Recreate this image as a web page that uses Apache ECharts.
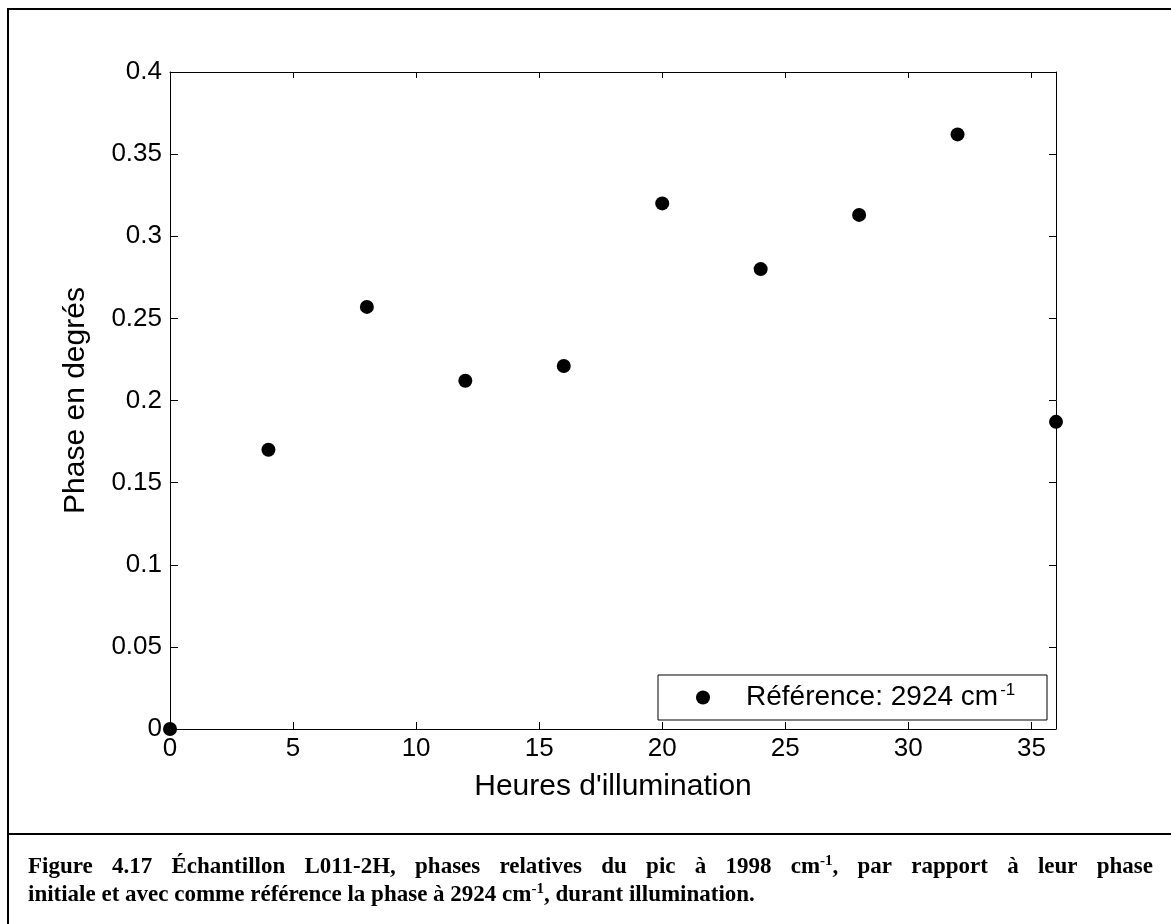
<!DOCTYPE html>
<html><head><meta charset="utf-8">
<script src="https://cdn.jsdelivr.net/npm/echarts@6/dist/echarts.min.js"></script>
<style>html,body{margin:0;padding:0;background:#fff}#c{width:1171px;height:924px}</style>
</head><body><div id="c"></div>
<script>
// ---- data ----
const hours = [0, 4, 8, 12, 16, 20, 24, 28, 32, 36];
const phase = [0, 0.170, 0.257, 0.212, 0.221, 0.320, 0.280, 0.313, 0.362, 0.187];
const xTicks = [0, 5, 10, 15, 20, 25, 30, 35];
const yTicks = [0, 0.05, 0.1, 0.15, 0.2, 0.25, 0.3, 0.35, 0.4];
const seriesName = 'Référence: 2924 cm-1';
const legendLabel = 'Référence: 2924 cm{s|-1}';
const xTitle = "Heures d'illumination";
const yTitle = 'Phase en degrés';
const captionLine1 = ['Figure', '4.17', 'Échantillon', 'L011-2H,', 'phases', 'relatives', 'du', 'pic', 'à', '1998', 'cm{s|-1},', 'par', 'rapport', 'à', 'leur', 'phase'];
const captionLine2 = ['initiale', 'et', 'avec', 'comme', 'référence', 'la', 'phase', 'à', '2924', 'cm{s|-1},', 'durant', 'illumination.'];

// ---- layout / style ----
const SANS = '"Liberation Sans", Arial, Helvetica, sans-serif';
const SERIF = '"Liberation Serif", "Times New Roman", serif';
const CAP_SIZE = 23, CAP_SUP = 15;
const ctx = document.createElement('canvas').getContext('2d');
function measure(str, size, weight, family) {
  ctx.font = (weight || 'normal') + ' ' + size + 'px ' + family;
  return ctx.measureText(str).width;
}
function measureWord(w) {
  let total = 0;
  const parts = w.split(/\{s\|([^}]*)\}/);
  parts.forEach((p, i) => {
    total += (i % 2 === 1) ? measure(p, CAP_SUP, 'bold', SERIF) : measure(p, CAP_SIZE, 'bold', SERIF);
  });
  return total;
}
const capRich = { s: { fontSize: CAP_SUP, fontWeight: 'bold', fontFamily: SERIF, lineHeight: 12, verticalAlign: 'top', fill: '#000' } };
function wordEl(text, x, y) {
  return {
    type: 'text', x: x, y: y, silent: true,
    style: { text: text, fontSize: CAP_SIZE, fontWeight: 'bold', fontFamily: SERIF, fill: '#000',
      lineHeight: 26, verticalAlign: 'middle', align: 'left', rich: capRich }
  };
}
const capLeft = 28, capRight = 1153;
const graphics = [
  { type: 'rect', silent: true, shape: { x: 8, y: 9, width: 1200, height: 1000 }, style: { fill: 'none', stroke: '#000', lineWidth: 2 } },
  { type: 'line', silent: true, shape: { x1: 8, y1: 834, x2: 1171, y2: 834 }, style: { stroke: '#000', lineWidth: 2 } }
];
(function () {
  const widths = captionLine1.map(measureWord);
  const sum = widths.reduce((a, b) => a + b, 0);
  const gap = (capRight - capLeft - sum) / (captionLine1.length - 1);
  let x = capLeft;
  captionLine1.forEach((w, i) => { graphics.push(wordEl(w, x, 867)); x += widths[i] + gap; });
})();
(function () {
  const space = measure(' ', CAP_SIZE, 'bold', SERIF);
  let x = capLeft;
  captionLine2.forEach((w) => { graphics.push(wordEl(w, x, 895)); x += measureWord(w) + space; });
})();

// legend padding
const LEG_SIZE = 28;
const legTextW = measure('Référence: 2924 cm', LEG_SIZE, 'normal', SANS) + measure('-1', 17, 'normal', SANS) + 2;
const legLeftPad = 38, legTextGap = 31;
const legRightPad = Math.max(4, (1047 - 658) - legLeftPad - 14 - 5 - legTextGap - legTextW);

const chart = echarts.init(document.getElementById('c'), null, { renderer: 'canvas' });
const axisCommon = {
  type: 'value',
  axisLine: { show: true, onZero: false, lineStyle: { color: '#000', width: 1 } },
  splitLine: { show: false }
};
chart.setOption({
  animation: false,
  backgroundColor: '#fff',
  grid: { left: 170, right: 115, top: 72, bottom: 195, containLabel: false },
  legend: {
    data: [seriesName], left: 658, top: 675, orient: 'horizontal',
    borderColor: '#000', borderWidth: 1, borderRadius: 0,
    padding: [7, legRightPad, 7, legLeftPad],
    itemWidth: 14, itemHeight: 14, icon: 'circle',
    itemStyle: { opacity: 1, color: '#000' },
    formatter: () => legendLabel,
    textStyle: {
      fontFamily: SANS, fontSize: LEG_SIZE, color: '#000', lineHeight: 31, padding: [0, 0, 0, legTextGap],
      rich: { s: { fontFamily: SANS, fontSize: 17, color: '#000', lineHeight: 16, verticalAlign: 'top', padding: [0, 0, 0, 2] } }
    }
  },
  xAxis: [
    Object.assign({}, axisCommon, {
      min: 0, max: 36, position: 'bottom',
      name: xTitle, nameLocation: 'middle', nameGap: 43,
      nameTextStyle: { fontFamily: SANS, fontSize: 30, color: '#000' },
      axisTick: { show: true, inside: true, length: 7, customValues: xTicks, lineStyle: { color: '#000' } },
      axisLabel: { show: true, customValues: xTicks, fontFamily: SANS, fontSize: 26, color: '#000', margin: 7 }
    }),
    Object.assign({}, axisCommon, {
      min: 0, max: 36, position: 'top',
      axisTick: { show: true, inside: true, length: 6, customValues: xTicks, lineStyle: { color: '#000' } },
      axisLabel: { show: false }
    })
  ],
  yAxis: [
    Object.assign({}, axisCommon, {
      min: 0, max: 0.4, position: 'left',
      name: yTitle, nameLocation: 'middle', nameGap: 79,
      nameTextStyle: { fontFamily: SANS, fontSize: 30, color: '#000' },
      axisTick: { show: true, inside: true, length: 8, customValues: yTicks, lineStyle: { color: '#000' } },
      axisLabel: { show: true, customValues: yTicks, fontFamily: SANS, fontSize: 26, color: '#000', margin: 8 }
    }),
    Object.assign({}, axisCommon, {
      min: 0, max: 0.4, position: 'right',
      axisTick: { show: true, inside: true, length: 7, customValues: yTicks, lineStyle: { color: '#000' } },
      axisLabel: { show: false }
    })
  ],
  series: [{
    name: seriesName, type: 'scatter', xAxisIndex: 0, yAxisIndex: 0,
    symbol: 'circle', symbolSize: 14, clip: false,
    itemStyle: { color: '#000', opacity: 1 },
    data: hours.map((h, i) => [h, phase[i]]),
    z: 5
  }],
  graphic: graphics
});
</script>
</body></html>
